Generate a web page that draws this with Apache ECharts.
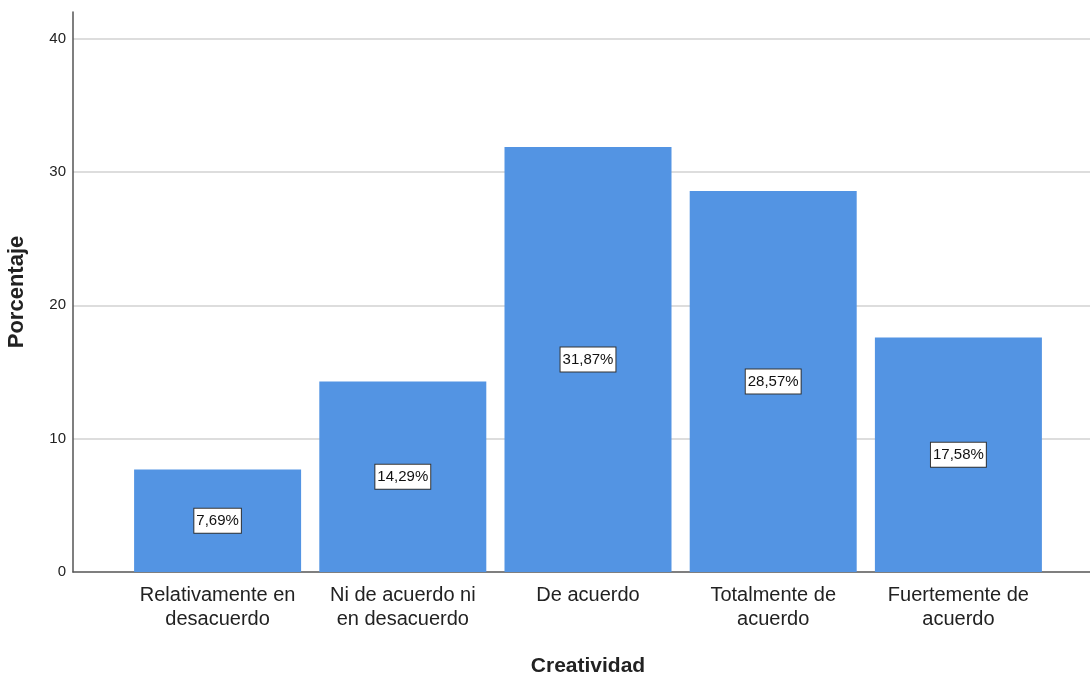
<!DOCTYPE html>
<html>
<head>
<meta charset="utf-8">
<script src="https://cdn.jsdelivr.net/npm/echarts@6/dist/echarts.min.js"></script>
<style>html,body{margin:0;padding:0;background:#fff;}#c{width:1090px;height:675px;}</style>
</head>
<body>
<div id="c"></div>
<script>
const categories = ['Relativamente en\ndesacuerdo', 'Ni de acuerdo ni\nen desacuerdo', 'De acuerdo', 'Totalmente de\nacuerdo', 'Fuertemente de\nacuerdo'];
const percentages = [7.69, 14.29, 31.87, 28.57, 17.58];
const yTicks = [0, 10, 20, 30, 40];
const xTitle = 'Creatividad';
const yTitle = 'Porcentaje';

const FONT = '"Liberation Sans", Arial, sans-serif';
const chart = echarts.init(document.getElementById('c'), null, {renderer: 'canvas'});
chart.setOption({
  animation: false,
  backgroundColor: '#ffffff',
  grid: [
    {left: 125, right: 39, top: 12, bottom: 103, outerBoundsMode: 'none', containLabel: false},
    {left: 73, right: 0, top: 12, bottom: 103, outerBoundsMode: 'none', containLabel: false}
  ],
  xAxis: [
    {
      type: 'category', gridIndex: 0, data: categories,
      axisLine: {show: false}, axisTick: {show: false},
      axisLabel: {fontFamily: FONT, fontSize: 20, color: '#222', lineHeight: 24, margin: 11, interval: 0},
      name: xTitle, nameLocation: 'middle', nameGap: 84,
      nameTextStyle: {fontFamily: FONT, fontSize: 21, fontWeight: 'bold', color: '#222', verticalAlign: 'top'}
    },
    {
      type: 'value', gridIndex: 1, min: 0, max: 1,
      axisLine: {show: true, onZero: false, lineStyle: {color: '#555', width: 1.5}},
      axisTick: {show: false}, axisLabel: {show: false}, splitLine: {show: false}
    }
  ],
  yAxis: [
    {
      type: 'value', gridIndex: 0, min: 0, max: 42,
      axisLine: {show: false}, axisTick: {show: false}, axisLabel: {show: false}, splitLine: {show: false}
    },
    {
      type: 'value', gridIndex: 1, min: 0, max: 42, interval: 10,
      axisLine: {show: true, lineStyle: {color: '#555', width: 1.5}},
      axisTick: {show: false},
      axisLabel: {
        fontFamily: FONT, fontSize: 15, color: '#222', margin: 7, showMaxLabel: false,
        formatter: v => yTicks.includes(v) ? String(v) : ''
      },
      splitLine: {show: true, showMaxLine: false, showMinLine: false, lineStyle: {color: '#d2d2d2', width: 1.5}},
      name: yTitle, nameLocation: 'middle', nameGap: 45,
      nameTextStyle: {fontFamily: FONT, fontSize: 22, fontWeight: 'bold', color: '#222'}
    }
  ],
  series: [{
    type: 'bar', xAxisIndex: 0, yAxisIndex: 0,
    data: percentages, barWidth: 167, z: 3,
    itemStyle: {color: '#5394e3'},
    label: {
      show: true, position: 'inside',
      formatter: p => p.value.toFixed(2).replace('.', ',') + '%',
      fontFamily: FONT, fontSize: 15, color: '#111',
      backgroundColor: '#fff', borderColor: '#333', borderWidth: 1,
      padding: [5, 2, 4, 2]
    }
  }]
});
</script>
</body>
</html>
